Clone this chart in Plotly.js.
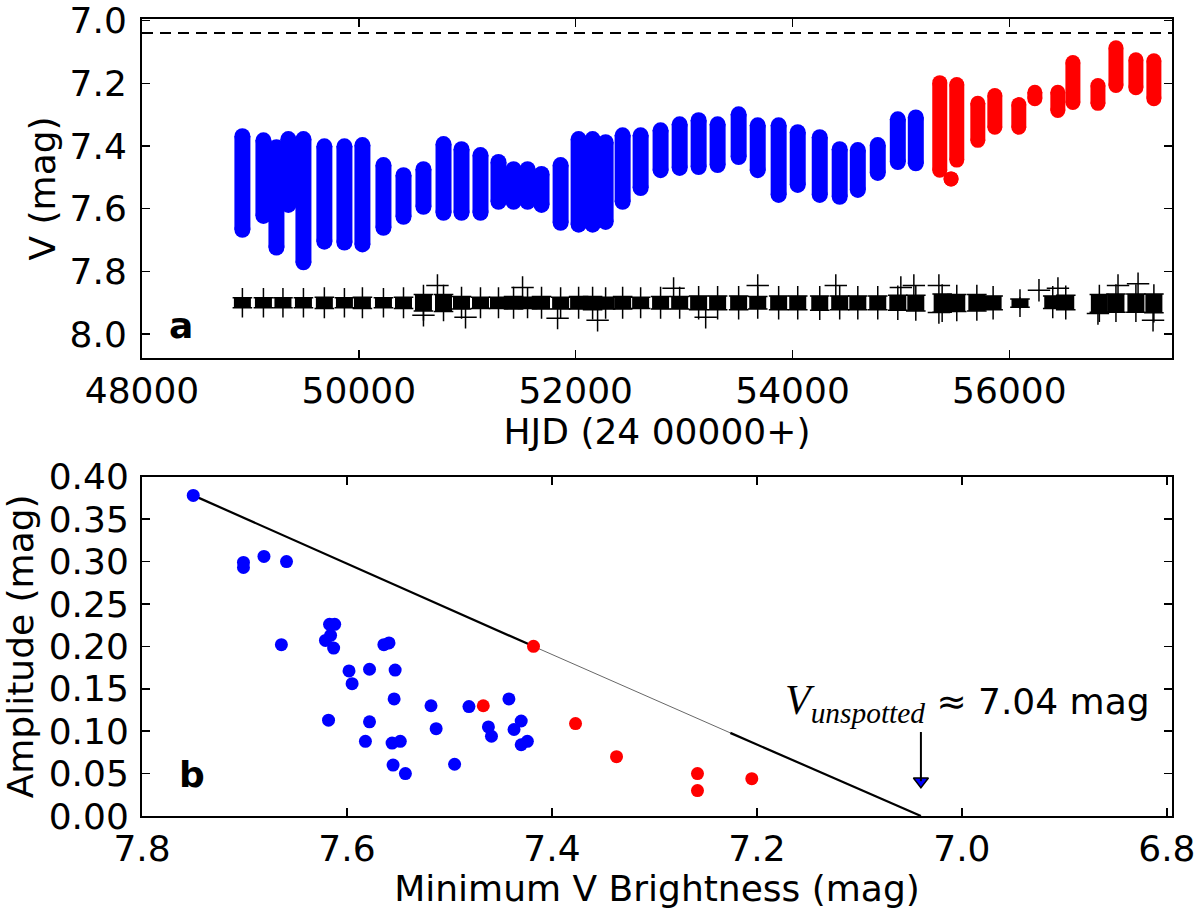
<!DOCTYPE html>
<html>
<head>
<meta charset="utf-8">
<script src="https://cdn.plot.ly/plotly-3.0.1.min.js"></script>
<style>
  body { margin: 0; background: #fff; }
  #chart { width: 1200px; height: 909px; }
</style>
</head>
<body>
<div id="chart"></div>
<script>
// panel a: V light curve, one entry per observing run (HJD - 2400000, brightest and faintest V)
const blueT = [48926, 49120, 49240, 49350, 49489, 49682, 49867, 50033, 50227, 50412,
               50596, 50781, 50947, 51122, 51288, 51427, 51556, 51685, 51861, 52027,
               52156, 52276, 52433, 52599, 52783, 52959, 53134, 53309, 53503, 53679,
               53872, 54048, 54251, 54435, 54602, 54786, 54971, 55137];
const blueBright = [7.369, 7.382, 7.404, 7.378, 7.378, 7.401, 7.401, 7.397, 7.461, 7.493,
                    7.474, 7.394, 7.410, 7.429, 7.451, 7.474, 7.474, 7.489, 7.461, 7.378,
                    7.378, 7.388, 7.366, 7.366, 7.350, 7.331, 7.318, 7.331, 7.299, 7.334,
                    7.334, 7.356, 7.372, 7.410, 7.413, 7.397, 7.315, 7.309];
const blueFaint = [7.667, 7.623, 7.724, 7.588, 7.771, 7.705, 7.708, 7.714, 7.661, 7.626,
                   7.594, 7.613, 7.613, 7.613, 7.578, 7.578, 7.578, 7.588, 7.645, 7.651,
                   7.651, 7.642, 7.578, 7.534, 7.477, 7.470, 7.467, 7.461, 7.435, 7.477,
                   7.556, 7.524, 7.556, 7.562, 7.540, 7.486, 7.451, 7.455];

const redT = [55358, 55462, 55515, 55709, 55866, 56087, 56235, 56447, 56586, 56817, 56983, 57167, 57333];
const redBright = [7.198, 7.505, 7.204, 7.264, 7.239, 7.268, 7.229, 7.229, 7.134, 7.207, 7.087, 7.125, 7.128];
const redFaint = [7.477, 7.505, 7.445, 7.382, 7.340, 7.340, 7.249, 7.287, 7.261, 7.264, 7.207, 7.214, 7.249];

// check star, plotted near V = 7.9
const checkT = [48926, 49120, 49300, 49489, 49682, 49867, 50033, 50227, 50412, 50596,
                50781, 50947, 51122, 51288, 51427, 51556, 51685, 51861, 52027, 52156,
                52276, 52433, 52599, 52783, 52959, 53134, 53309, 53503, 53679, 53872,
                54048, 54251, 54435, 54602, 54786, 54971, 55137, 55380, 55515, 55700,
                55850, 56098, 56400, 56520, 56830, 56983, 57167, 57333];
const checkBright = [7.884, 7.884, 7.884, 7.884, 7.882, 7.884, 7.882, 7.884, 7.882, 7.874,
                     7.874, 7.880, 7.882, 7.882, 7.880, 7.882, 7.880, 7.882, 7.880, 7.880,
                     7.882, 7.880, 7.882, 7.880, 7.880, 7.878, 7.878, 7.878, 7.880, 7.878,
                     7.878, 7.878, 7.878, 7.878, 7.878, 7.876, 7.876, 7.872, 7.874, 7.874,
                     7.878, 7.888, 7.878, 7.876, 7.874, 7.872, 7.872, 7.872];
const checkFaint = [7.916, 7.916, 7.916, 7.916, 7.918, 7.916, 7.918, 7.916, 7.918, 7.926,
                    7.928, 7.920, 7.918, 7.918, 7.920, 7.918, 7.920, 7.920, 7.920, 7.922,
                    7.920, 7.920, 7.918, 7.920, 7.920, 7.922, 7.922, 7.922, 7.920, 7.922,
                    7.922, 7.924, 7.922, 7.922, 7.922, 7.924, 7.926, 7.930, 7.928, 7.926,
                    7.922, 7.914, 7.918, 7.922, 7.930, 7.930, 7.930, 7.932];
const checkOutT = [50596, 50725, 50984, 51510, 51833, 52202, 52903, 53199, 53679, 54399,
                   54999, 55119, 55350, 55350, 56273, 56448, 56817, 57002, 57187, 57325];
const checkOutV = [7.940, 7.845, 7.946, 7.851, 7.949, 7.956, 7.854, 7.946, 7.845, 7.845,
                   7.851, 7.845, 7.845, 7.931, 7.860, 7.854, 7.934, 7.845, 7.839, 7.956];

const vUnspotted = 7.04;

// panel b: seasonal amplitude versus minimum V brightness
const ampBlueV = [7.750, 7.701, 7.701, 7.681, 7.659, 7.664, 7.617, 7.612, 7.616, 7.621,
                  7.613, 7.618, 7.598, 7.595, 7.578, 7.578, 7.582, 7.564, 7.559, 7.553,
                  7.554, 7.556, 7.548, 7.555, 7.543, 7.518, 7.513, 7.495, 7.481, 7.462,
                  7.459, 7.442, 7.430, 7.437, 7.430, 7.424];
const ampBlueA = [0.378, 0.299, 0.293, 0.306, 0.300, 0.202, 0.226, 0.226, 0.213, 0.207,
                  0.198, 0.113, 0.171, 0.156, 0.173, 0.111, 0.088, 0.202, 0.204, 0.172,
                  0.138, 0.086, 0.088, 0.060, 0.050, 0.130, 0.103, 0.061, 0.129, 0.105,
                  0.094, 0.138, 0.112, 0.102, 0.084, 0.088];
const ampRedV = [7.467, 7.418, 7.377, 7.337, 7.258, 7.258, 7.205];
const ampRedA = [0.130, 0.200, 0.109, 0.070, 0.050, 0.030, 0.044];

// upper envelope: thick fit, thin extrapolation, thick end down to zero amplitude
const fitV = [7.750, 7.418, 7.226, vUnspotted];
const fitA = [0.378, 0.200, 0.098, 0.0];
const arrowTail = 0.099;
const arrowHead = 0.041;

function runs(ts, lo, hi) {
    const x = [], y = [];
    for (let i = 0; i < ts.length; i++) {
        x.push(ts[i], ts[i], null);
        y.push(lo[i], hi[i], null);
    }
    return {x: x, y: y};
}

function drawChart() {
    const b = runs(blueT, blueBright, blueFaint);
    const r = runs(redT, redBright, redFaint);
    const c = runs(checkT, checkBright, checkFaint);

    const traces = [
        {x: c.x, y: c.y, xaxis: 'x', yaxis: 'y', mode: 'lines+markers',
            line: {color: 'black', width: 17},
            marker: {symbol: 'cross-thin', size: 14, line: {color: 'black', width: 1.5}}},
        {x: checkOutT, y: checkOutV, xaxis: 'x', yaxis: 'y', mode: 'markers',
            marker: {symbol: 'cross-thin', size: 16, line: {color: 'black', width: 1.5}}},
        {x: b.x, y: b.y, xaxis: 'x', yaxis: 'y', mode: 'lines+markers',
            line: {color: '#0000ff', width: 16},
            marker: {color: '#0000ff', size: 16}},
        {x: r.x, y: r.y, xaxis: 'x', yaxis: 'y', mode: 'lines+markers',
            line: {color: '#ff0000', width: 15},
            marker: {color: '#ff0000', size: 15}},

        {x: fitV.slice(0, 2), y: fitA.slice(0, 2), xaxis: 'x2', yaxis: 'y2', mode: 'lines',
            line: {color: 'black', width: 2.2}},
        {x: fitV.slice(1, 3), y: fitA.slice(1, 3), xaxis: 'x2', yaxis: 'y2', mode: 'lines',
            line: {color: 'black', width: 0.6}},
        {x: fitV.slice(2, 4), y: fitA.slice(2, 4), xaxis: 'x2', yaxis: 'y2', mode: 'lines',
            line: {color: 'black', width: 2.2}},
        {x: ampBlueV, y: ampBlueA, xaxis: 'x2', yaxis: 'y2', mode: 'markers',
            marker: {color: '#0000ff', size: 13}},
        {x: ampRedV, y: ampRedA, xaxis: 'x2', yaxis: 'y2', mode: 'markers',
            marker: {color: '#ff0000', size: 13}},
        {x: [vUnspotted], y: [arrowHead], xaxis: 'x2', yaxis: 'y2', mode: 'markers',
            marker: {symbol: 'triangle-down', color: '#0000ff', size: 13, line: {color: 'black', width: 1.5}}}
    ];

    const axisStyle = {
        showline: true, linecolor: 'black', linewidth: 2, mirror: 'ticks',
        ticks: 'inside', ticklen: 8, tickwidth: 1.5, tickcolor: 'black',
        showgrid: false, zeroline: false,
        tickfont: {size: 36, color: 'black'},
        ticklabeloverflow: 'allow',
    };

    const layout = {
        width: 1200, height: 909,
        margin: {l: 142, r: 28, t: 19, b: 93},
        paper_bgcolor: 'white', plot_bgcolor: 'white',
        font: {family: 'DejaVu Sans', color: 'black', size: 36},
        showlegend: false,
        xaxis: Object.assign({}, axisStyle, {
            domain: [0, 1], anchor: 'y', range: [48000, 57500], dtick: 2000, tick0: 0,
            tickformat: 'd',
            title: {text: 'HJD (24 00000+)', font: {size: 36}, standoff: 5},
        }),
        yaxis: Object.assign({}, axisStyle, {
            domain: [0.5747, 1], anchor: 'x', range: [8.076, 6.995], dtick: 0.2, tick0: 0,
            tickformat: '.1f', ticklabelstandoff: 6,
            title: {text: 'V (mag)', font: {size: 36}, standoff: 3},
        }),
        xaxis2: Object.assign({}, axisStyle, {
            domain: [0, 1], anchor: 'y2', range: [7.8, 6.795], dtick: 0.2, tick0: 0,
            tickformat: '.1f',
            title: {text: 'Minimum V Brightness (mag)', font: {size: 36}, standoff: 14},
        }),
        yaxis2: Object.assign({}, axisStyle, {
            domain: [0, 0.4257], anchor: 'x2', range: [0, 0.4], dtick: 0.05, tick0: 0,
            tickformat: '.2f', ticklabelstandoff: 4,
            title: {text: 'Amplitude (mag)', font: {size: 36}, standoff: 18},
        }),
        shapes: [
            {type: 'line', xref: 'x domain', x0: 0, x1: 1, yref: 'y', y0: vUnspotted, y1: vUnspotted,
                line: {color: 'black', width: 2, dash: '11px,7px'}},
            // arrow shaft pointing at V_unspotted
            {type: 'line', xref: 'x2', yref: 'y2', x0: vUnspotted, x1: vUnspotted, y0: arrowTail, y1: arrowHead,
                line: {color: 'black', width: 2}}
        ],
        annotations: [
            {xref: 'x domain', yref: 'y domain', x: 0.024, y: 0.03, text: '<b>a</b>',
                showarrow: false, font: {size: 36}},
            {xref: 'x2 domain', yref: 'y2 domain', x: 0.034, y: 0.057, text: '<b>b</b>',
                showarrow: false, font: {size: 36}},
            {xref: 'x2 domain', yref: 'y2 domain', x: 0.9806, y: 0.333, xanchor: 'right', yanchor: 'middle',
                showarrow: false, font: {size: 36},
                text: '<span style="font-family:Liberation Serif;font-size:42px"><i>V</i><sub><i>unspotted</i></sub></span> ≈ 7.04 mag'}
        ]
    };

    Plotly.newPlot('chart', traces, layout, {displayModeBar: false, staticPlot: true});
}

drawChart();
</script>
</body>
</html>
